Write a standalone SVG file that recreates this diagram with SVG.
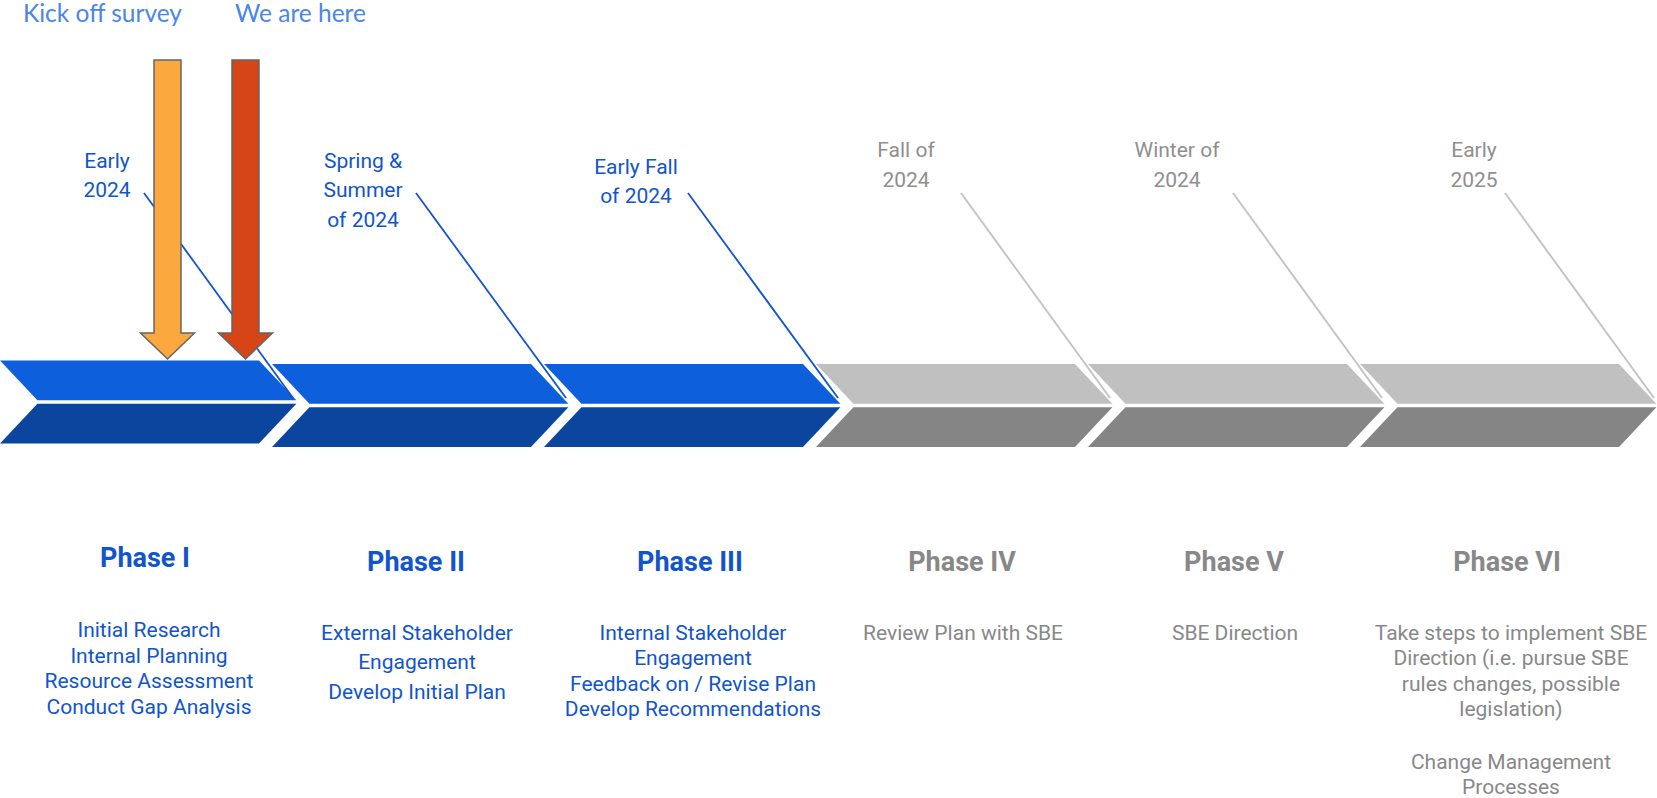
<svg xmlns="http://www.w3.org/2000/svg" width="1657" height="798" viewBox="0 0 1657 798">
  <style>
    .lbl { font-family: Roboto, "Liberation Sans", sans-serif; font-size: 21px; text-anchor: middle; }
    .title { font-family: Roboto, "Liberation Sans", sans-serif; font-size: 27px; font-weight: bold; text-anchor: middle; }
    .note { font-family: Lato, "Liberation Sans", sans-serif; font-size: 24.5px; fill: #4a86e8; text-anchor: middle; }
    .blue { fill: #1155cc; }
    .grey { fill: #888888; }
    .date-grey { fill: #8f8f8f; }
    .top-blue { fill: #0d5fdc; }
    .bot-blue { fill: #0b459e; }
    .top-grey { fill: #c0c0c0; }
    .bot-grey { fill: #858585; }
    .lead-blue { stroke: #1155cc; stroke-width: 1.8; fill: none; }
    .lead-grey { stroke: #c4c4c4; stroke-width: 2; fill: none; }
    .marker { stroke: #666666; stroke-width: 1.5; }
  </style>
  <defs>
    <!-- upper and lower halves of one chevron segment -->
    <polygon id="half-top" points="0,0 259,0 296.4,39.8 37.4,39.8"/>
    <polygon id="half-bot" points="37.4,43.2 296.4,43.2 259,83 0,83"/>
  </defs>
  <rect width="1657" height="798" fill="#ffffff"/>

  <!-- chevron timeline -->
  <g id="chevron-1">
    <use href="#half-top" class="top-blue" transform="translate(0,360.5)"/>
    <use href="#half-bot" class="bot-blue" transform="translate(0,360.5)"/>
  </g>
  <g id="chevron-2">
    <use href="#half-top" class="top-blue" transform="translate(272,364)"/>
    <use href="#half-bot" class="bot-blue" transform="translate(272,364)"/>
  </g>
  <g id="chevron-3">
    <use href="#half-top" class="top-blue" transform="translate(544,364)"/>
    <use href="#half-bot" class="bot-blue" transform="translate(544,364)"/>
  </g>
  <g id="chevron-4">
    <use href="#half-top" class="top-grey" transform="translate(816,364)"/>
    <use href="#half-bot" class="bot-grey" transform="translate(816,364)"/>
  </g>
  <g id="chevron-5">
    <use href="#half-top" class="top-grey" transform="translate(1088,364)"/>
    <use href="#half-bot" class="bot-grey" transform="translate(1088,364)"/>
  </g>
  <g id="chevron-6">
    <use href="#half-top" class="top-grey" transform="translate(1360,364)"/>
    <use href="#half-bot" class="bot-grey" transform="translate(1360,364)"/>
  </g>

  <!-- leader lines from date labels to chevron tips -->
  <g id="connectors">
    <line class="lead-blue" x1="144" y1="193" x2="293" y2="398"/>
    <line class="lead-blue" x1="416" y1="193" x2="566" y2="398"/>
    <line class="lead-blue" x1="688" y1="193" x2="838" y2="398"/>
    <line class="lead-grey" x1="961" y1="193" x2="1110" y2="398"/>
    <line class="lead-grey" x1="1233" y1="193" x2="1382" y2="398"/>
    <line class="lead-grey" x1="1505" y1="193" x2="1654" y2="398"/>
  </g>

  <!-- milestone markers -->
  <g id="kickoff-marker">
    <path class="marker" fill="#fba93f" d="M154,60 H181 V333 H194.5 L167.5,359 L140.5,333 H154 Z"/>
    <text class="note" x="102.5" y="22">Kick off survey</text>
  </g>
  <g id="current-marker">
    <path class="marker" fill="#d64516" d="M232,60 H259 V333 H272.5 L245.5,359 L218.5,333 H232 Z"/>
    <text class="note" x="300.5" y="22">We are here</text>
  </g>

  <!-- date labels -->
  <g id="date-1" class="lbl blue">
    <text x="107" y="168">Early</text>
    <text x="107" y="197">2024</text>
  </g>
  <g id="date-2" class="lbl blue">
    <text x="363" y="168">Spring &amp;</text>
    <text x="363" y="197">Summer</text>
    <text x="363" y="227">of 2024</text>
  </g>
  <g id="date-3" class="lbl blue">
    <text x="636" y="174">Early Fall</text>
    <text x="636" y="203">of 2024</text>
  </g>
  <g id="date-4" class="lbl date-grey">
    <text x="906" y="157">Fall of</text>
    <text x="906" y="187">2024</text>
  </g>
  <g id="date-5" class="lbl date-grey">
    <text x="1177" y="157">Winter of</text>
    <text x="1177" y="187">2024</text>
  </g>
  <g id="date-6" class="lbl date-grey">
    <text x="1474" y="157">Early</text>
    <text x="1474" y="187">2025</text>
  </g>

  <!-- phase descriptions -->
  <g id="phase-1">
    <text class="title blue" x="145" y="567">Phase I</text>
    <g class="lbl blue">
      <text x="149" y="637">Initial Research</text>
      <text x="149" y="662.5">Internal Planning</text>
      <text x="149" y="688">Resource Assessment</text>
      <text x="149" y="713.5">Conduct Gap Analysis</text>
    </g>
  </g>
  <g id="phase-2">
    <text class="title blue" x="416" y="571">Phase II</text>
    <g class="lbl blue">
      <text x="417" y="639.5">External Stakeholder</text>
      <text x="417" y="669">Engagement</text>
      <text x="417" y="699">Develop Initial Plan</text>
    </g>
  </g>
  <g id="phase-3">
    <text class="title blue" x="690" y="571">Phase III</text>
    <g class="lbl blue">
      <text x="693" y="639.5">Internal Stakeholder</text>
      <text x="693" y="665">Engagement</text>
      <text x="693" y="690.5">Feedback on / Revise Plan</text>
      <text x="693" y="716">Develop Recommendations</text>
    </g>
  </g>
  <g id="phase-4">
    <text class="title grey" x="962" y="571">Phase IV</text>
    <text class="lbl grey" x="963" y="639.5">Review Plan with SBE</text>
  </g>
  <g id="phase-5">
    <text class="title grey" x="1234" y="571">Phase V</text>
    <text class="lbl grey" x="1235" y="639.5">SBE Direction</text>
  </g>
  <g id="phase-6">
    <text class="title grey" x="1507" y="571">Phase VI</text>
    <g class="lbl grey">
      <text x="1511" y="639.5">Take steps to implement SBE</text>
      <text x="1511" y="665">Direction (i.e. pursue SBE</text>
      <text x="1511" y="690.5">rules changes, possible</text>
      <text x="1511" y="716">legislation)</text>
      <text x="1511" y="768.5">Change Management</text>
      <text x="1511" y="794">Processes</text>
    </g>
  </g>
</svg>
